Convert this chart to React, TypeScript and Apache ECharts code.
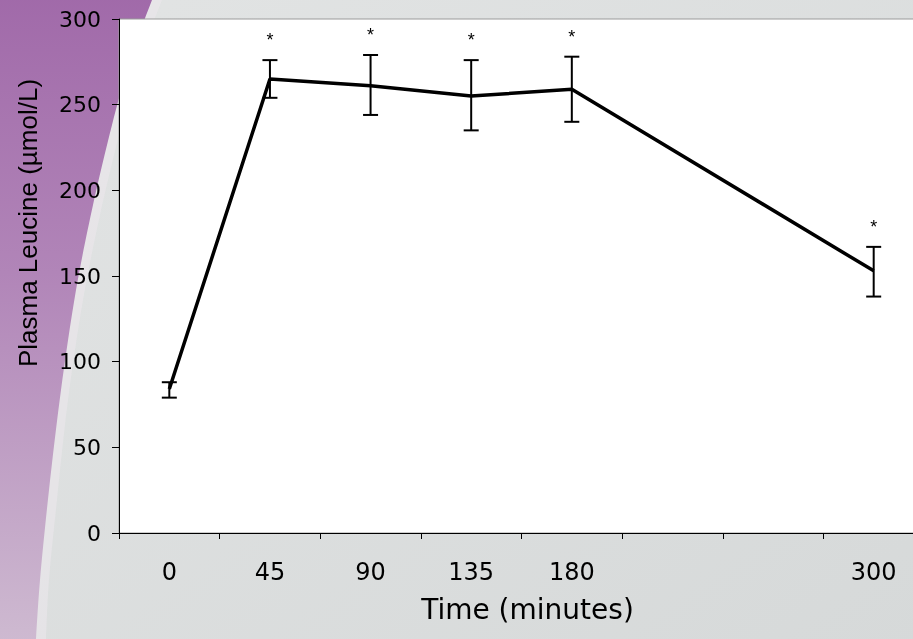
import React, { useEffect, useRef } from "react";
import * as echarts from "echarts";

const timeLabels = ["0", "45", "90", "135", "180", "", "", "300"];
const meanLeucine = [84, 265, 261, 255, 259, null, null, 153];
const errLow = [79, 254, 244, 235, 240, null, null, 138];
const errHigh = [88, 276, 279, 276, 278, null, null, 167];
const significant = [false, true, true, true, true, false, false, true];
const yTicks = { min: 0, max: 300, interval: 50 };

const FONT = "Liberation Sans, Arial, Helvetica, sans-serif";
const WIDE = "DejaVu Sans, Liberation Sans, Arial, sans-serif";

export default function App() {
  const ref = useRef<HTMLDivElement>(null);
  useEffect(() => {
    if (!ref.current) return;
    const chart = echarts.init(ref.current, undefined, { renderer: "svg" });
    const errData: any[] = [];
    timeLabels.forEach((_, i) => {
      if (errLow[i] != null && errHigh[i] != null) {
        errData.push([i, errLow[i], errHigh[i], significant[i] ? 1 : 0]);
      }
    });
    chart.setOption({
      animation: false,
      backgroundColor: "transparent",
      graphic: [
        {
          type: "rect",
          z: -20,
          silent: true,
          shape: { x: 0, y: 0, width: 940, height: 639 },
          style: {
            fill: new echarts.graphic.LinearGradient(0, 0, 1, 1, [
              { offset: 0, color: "#e2e4e4" },
              { offset: 1, color: "#d6d9d9" },
            ]),
          },
        },
        {
          type: "polygon",
          z: -19,
          silent: true,
          shape: {
            smooth: 0.3,
            points: [
              [0, -60], [188, -60], [162, 0], [138, 65], [119, 135], [100, 215], [83, 300],
              [68, 400], [57, 500], [49, 580], [46, 639], [44, 700], [0, 700],
            ],
          },
          style: { fill: "rgba(236,232,237,0.55)" },
        },
        {
          type: "polygon",
          z: -18,
          silent: true,
          shape: {
            smooth: 0.3,
            points: [
              [0, -60], [176, -60], [152, 0], [130, 60], [112, 125], [93, 205], [76, 290],
              [61, 390], [49, 490], [40, 580], [36, 639], [33, 700], [0, 700],
            ],
          },
          style: {
            fill: new echarts.graphic.LinearGradient(0, 0, 0, 1, [
              { offset: 0, color: "#9c62a5" },
              { offset: 0.45, color: "#b185b8" },
              { offset: 1, color: "#d3c3d5" },
            ]),
          },
        },
      ],
      grid: {
        left: 119,
        top: 19,
        width: 805,
        height: 514,
        show: true,
        backgroundColor: "#ffffff",
        borderColor: "#9a9a9a",
        borderWidth: 1,
      },
      xAxis: {
        type: "category",
        data: timeLabels,
        boundaryGap: true,
        name: "Time (minutes)",
        nameLocation: "middle",
        nameGap: 62,
        nameTextStyle: { fontFamily: WIDE, fontSize: 28, color: "#000", padding: [0, 0, 0, 12] },
        axisLine: { lineStyle: { color: "#000", width: 1 } },
        axisTick: { show: true, length: 6, lineStyle: { color: "#000" } },
        axisLabel: { interval: 0, margin: 27, fontFamily: WIDE, fontSize: 24, color: "#000" },
        splitLine: { show: false },
      },
      yAxis: {
        type: "value",
        min: yTicks.min,
        max: yTicks.max,
        interval: yTicks.interval,
        name: "Plasma Leucine (µmol/L)",
        nameLocation: "middle",
        nameGap: 78,
        nameRotate: 90,
        nameTextStyle: { fontFamily: FONT, fontSize: 26, color: "#000", padding: [0, 0, 0, 106] },
        axisLine: { show: true, lineStyle: { color: "#000", width: 1 } },
        axisTick: { show: true, length: 7, lineStyle: { color: "#000" } },
        axisLabel: { margin: 18, fontFamily: WIDE, fontSize: 22, color: "#000" },
        splitLine: { show: false },
      },
      series: [
        {
          type: "line",
          data: meanLeucine,
          connectNulls: true,
          showSymbol: false,
          symbol: "none",
          lineStyle: { color: "#000", width: 3.5 },
          z: 3,
        },
        {
          type: "custom",
          data: errData,
          z: 4,
          renderItem: (params: any, api: any) => {
            const i = api.value(0);
            const lo = api.coord([i, api.value(1)]);
            const hi = api.coord([i, api.value(2)]);
            const hw = 7.5;
            const st = { stroke: "#000", lineWidth: 2 };
            const children: any[] = [
              { type: "line", shape: { x1: hi[0], y1: hi[1], x2: lo[0], y2: lo[1] }, style: st },
              { type: "line", shape: { x1: hi[0] - hw, y1: hi[1], x2: hi[0] + hw, y2: hi[1] }, style: st },
              { type: "line", shape: { x1: lo[0] - hw, y1: lo[1], x2: lo[0] + hw, y2: lo[1] }, style: st },
            ];
            if (api.value(3) === 1) {
              children.push({
                type: "text",
                x: hi[0],
                y: hi[1] - 20,
                style: {
                  text: "*",
                  fill: "#000",
                  font: `18px ${FONT}`,
                  align: "center",
                  verticalAlign: "middle",
                },
              });
            }
            return { type: "group", children };
          },
        },
      ],
    });
    return () => chart.dispose();
  }, []);
  return (
    <div
      ref={ref}
      style={{ position: "fixed", left: 0, top: 0, width: 940, height: 639 }}
    />
  );
}
